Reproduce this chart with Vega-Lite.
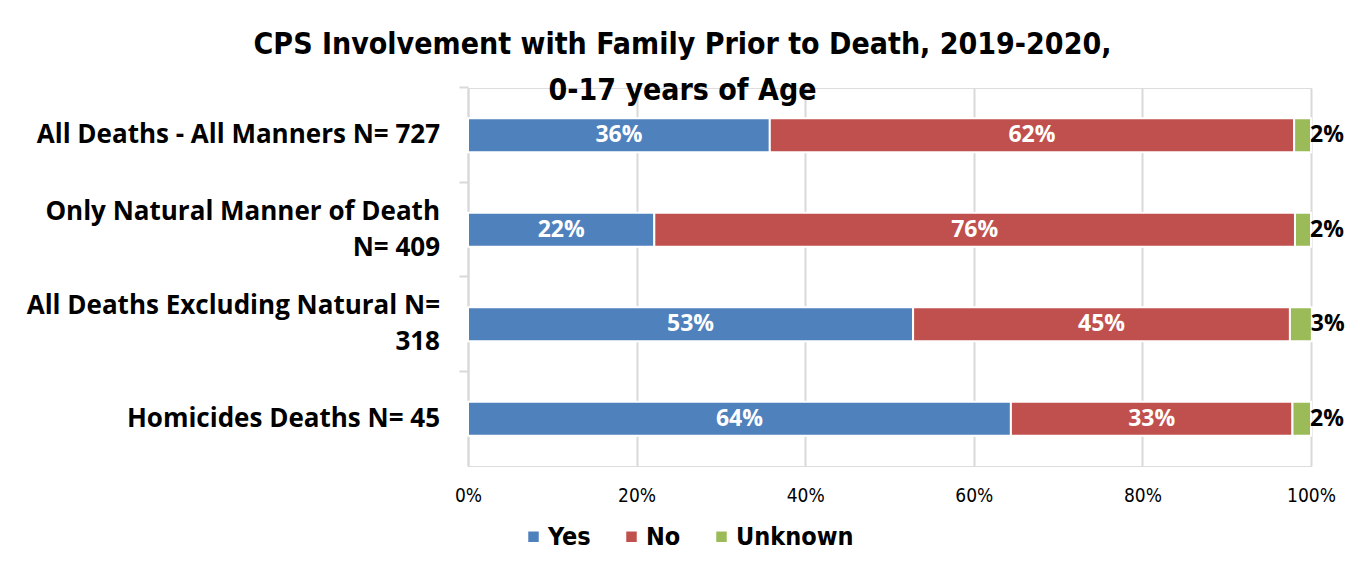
{
  "$schema": "https://vega.github.io/schema/vega-lite/v6.json",
  "width": 843,
  "height": 378,
  "autosize": "none",
  "padding": {"left": 468, "top": 88, "right": 51, "bottom": 105},
  "background": "white",
  "title": {
    "text": ["CPS Involvement with Family Prior to Death, 2019-2020,", "0-17 years of Age"],
    "font": "'DejaVu Sans Condensed', 'DejaVu Sans', sans-serif",
    "fontSize": 30,
    "fontWeight": "bold",
    "color": "black",
    "anchor": "middle",
    "frame": "group",
    "dx": -207,
    "offset": -20,
    "lineHeight": 46
  },
  "data": {
    "values": [
      {"category": "All Deaths - All Manners N= 727", "response": "Yes", "order": 1, "share": 0.358},
      {"category": "All Deaths - All Manners N= 727", "response": "No", "order": 2, "share": 0.622},
      {"category": "All Deaths - All Manners N= 727", "response": "Unknown", "order": 3, "share": 0.02},
      {"category": "Only Natural Manner of Death|N= 409", "response": "Yes", "order": 1, "share": 0.221},
      {"category": "Only Natural Manner of Death|N= 409", "response": "No", "order": 2, "share": 0.76},
      {"category": "Only Natural Manner of Death|N= 409", "response": "Unknown", "order": 3, "share": 0.019},
      {"category": "All Deaths Excluding Natural N=|318", "response": "Yes", "order": 1, "share": 0.528},
      {"category": "All Deaths Excluding Natural N=|318", "response": "No", "order": 2, "share": 0.447},
      {"category": "All Deaths Excluding Natural N=|318", "response": "Unknown", "order": 3, "share": 0.026},
      {"category": "Homicides Deaths N= 45", "response": "Yes", "order": 1, "share": 0.644},
      {"category": "Homicides Deaths N= 45", "response": "No", "order": 2, "share": 0.334},
      {"category": "Homicides Deaths N= 45", "response": "Unknown", "order": 3, "share": 0.022}
    ]
  },
  "transform": [
    {"stack": "share", "groupby": ["category"], "sort": [{"field": "order"}], "as": ["x0", "x1"]},
    {"calculate": "(datum.x0 + datum.x1) / 2", "as": "xmid"}
  ],
  "encoding": {
    "y": {
      "field": "category",
      "type": "nominal",
      "sort": ["All Deaths - All Manners N= 727", "Only Natural Manner of Death|N= 409", "All Deaths Excluding Natural N=|318", "Homicides Deaths N= 45"],
      "scale": {"paddingInner": 0.64, "paddingOuter": 0.32},
      "axis": {
        "title": null,
        "labels": false,
        "bandPosition": -0.89,
        "tickSize": 9,
        "tickColor": "#d9d9d9",
        "tickWidth": 2,
        "domainColor": "#d9d9d9",
        "domainWidth": 2,
        "grid": false
      }
    }
  },
  "layer": [
    {
      "mark": {"type": "bar", "stroke": "white", "strokeWidth": 2},
      "encoding": {
        "x": {
          "field": "x0",
          "type": "quantitative",
          "scale": {"domain": [0, 1], "nice": false},
          "axis": {
            "title": null,
            "format": ".0%",
            "values": [0, 0.2, 0.4, 0.6, 0.8, 1],
            "labelFont": "'DejaVu Sans Condensed', 'DejaVu Sans', sans-serif",
            "labelFontSize": 19,
            "labelColor": "black",
            "labelPadding": 20,
            "ticks": false,
            "domain": false,
            "grid": true,
            "gridColor": "#d9d9d9",
            "gridWidth": 2,
            "labelFlush": false
          }
        },
        "x2": {"field": "x1"},
        "color": {
          "field": "response",
          "type": "nominal",
          "scale": {"domain": ["Yes", "No", "Unknown"], "range": ["#4F81BD", "#C0504D", "#9BBB59"]},
          "legend": {
            "title": null,
            "orient": "none",
            "direction": "horizontal",
            "legendX": 53,
            "legendY": 436,
            "symbolType": "square",
            "symbolSize": 110,
            "symbolStrokeWidth": 0,
            "labelFont": "'DejaVu Sans Condensed', 'DejaVu Sans', sans-serif",
            "labelFontSize": 25,
            "labelFontWeight": "bold",
            "labelColor": "black",
            "columnPadding": 28,
            "labelOffset": 2
          }
        }
      }
    },
    {
      "transform": [{"filter": "datum.response === 'Yes' && indexof(datum.category, '|') < 0"}],
      "mark": {"type": "text", "color": "black", "font": "'Open Sans', sans-serif", "fontSize": 26, "fontWeight": "bold", "baseline": "middle", "align": "right", "dx": -28},
      "encoding": {
        "x": {"datum": 0, "type": "quantitative"},
        "text": {"field": "category"}
      }
    },
    {
      "transform": [{"filter": "datum.response === 'Yes' && indexof(datum.category, '|') >= 0"}],
      "mark": {"type": "text", "color": "black", "font": "'Open Sans', sans-serif", "fontSize": 26, "fontWeight": "bold", "baseline": "middle", "align": "right", "dx": -28, "dy": -18, "lineBreak": "|", "lineHeight": 36},
      "encoding": {
        "x": {"datum": 0, "type": "quantitative"},
        "text": {"field": "category"}
      }
    },
    {
      "transform": [{"filter": "datum.response !== 'Unknown'"}],
      "mark": {"type": "text", "color": "white", "font": "'Open Sans', sans-serif", "fontSize": 23, "fontWeight": "bold", "baseline": "middle", "align": "center"},
      "encoding": {
        "x": {"field": "xmid", "type": "quantitative"},
        "text": {"field": "share", "type": "quantitative", "format": ".0%"}
      }
    },
    {
      "transform": [{"filter": "datum.response === 'Unknown'"}],
      "mark": {"type": "text", "color": "black", "font": "'Open Sans', sans-serif", "fontSize": 23, "fontWeight": "bold", "baseline": "middle", "align": "left", "dx": -1},
      "encoding": {
        "x": {"field": "x1", "type": "quantitative"},
        "text": {"field": "share", "type": "quantitative", "format": ".0%"}
      }
    }
  ]
}
